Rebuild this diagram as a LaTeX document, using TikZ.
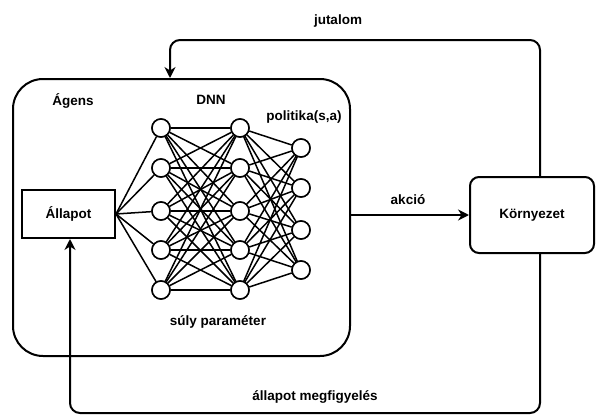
\documentclass[tikz,border=0pt]{standalone}
\usepackage{fontspec}
\setmainfont{Liberation Sans}
\usetikzlibrary{arrows.meta,calc}
\begin{document}
\begin{tikzpicture}[x=1pt,y=-1pt,
  txt/.style={font=\fontsize{13.5}{15}\selectfont\bfseries, inner sep=0pt},
  boxline/.style={draw, line width=2pt},
  neuron/.style={circle, draw, line width=1.5pt, fill=white, minimum size=18pt, inner sep=0pt},
  conn/.style={line width=1.5pt},
  flow/.style={line width=2pt, rounded corners=10pt, -{Stealth[length=11pt,width=11pt]}},
]
\useasboundingbox (0,0) rectangle (598,415);
% boxes
\node[boxline, rounded corners=30pt, minimum width=337pt, minimum height=277pt] (agent) at (181.5,217.5) {};
\node[boxline, minimum width=93pt, minimum height=48pt, txt] (state) at (68.5,214) {Állapot};
\node[boxline, rounded corners=9pt, minimum width=124pt, minimum height=76pt, txt] (env) at (532,215) {Környezet};
% labels
\node[txt] (lagent) at (73,101) {Ágens};
\node[txt] (ldnn) at (211,100) {DNN};
\node[txt] (lpol) at (304,117) {politika(s,a)};
\node[txt] (lsuly) at (218,322) {súly paraméter};
\node[txt] (ljut) at (338,21) {jutalom};
\node[txt] (lakc) at (408,200) {akció};
\node[txt] (lmeg) at (315,397) {állapot megfigyelés};
% neuron positions
\foreach \i/\y in {1/128,2/168,3/211,4/250,5/290} {
  \node[neuron] (a\i) at (161,\y) {};
  \node[neuron] (b\i) at (240,\y) {};
}
\foreach \j/\y in {1/148,2/188,3/230,4/270} {
  \node[neuron] (c\j) at (301,\y) {};
}
% connections
\foreach \i in {1,...,5} {
  \draw[conn] (state.east) -- (a\i);
  \foreach \k in {1,...,5} { \draw[conn] (a\i) -- (b\k); }
  \foreach \j in {1,...,4} { \draw[conn] (b\i) -- (c\j); }
}
% neurons on top of the connections
\foreach \i/\y in {1/128,2/168,3/211,4/250,5/290} {
  \node[neuron] at (161,\y) {};
  \node[neuron] at (240,\y) {};
}
\foreach \j/\y in {1/148,2/188,3/230,4/270} {
  \node[neuron] at (301,\y) {};
}
% flows
\coordinate (jx) at (540,40);
\coordinate (jl) at (170,40);
\coordinate (mx) at (540,413);
\coordinate (ml) at (70,413);
\draw[flow] (env.north -| jx) -- (jx) -- (jl) -- (agent.north -| jl);
\draw[flow] (env.south -| mx) -- (mx) -- (ml) -- (state.south -| ml);
\draw[flow] (agent.east |- env.west) -- (env.west);
\end{tikzpicture}
\end{document}
